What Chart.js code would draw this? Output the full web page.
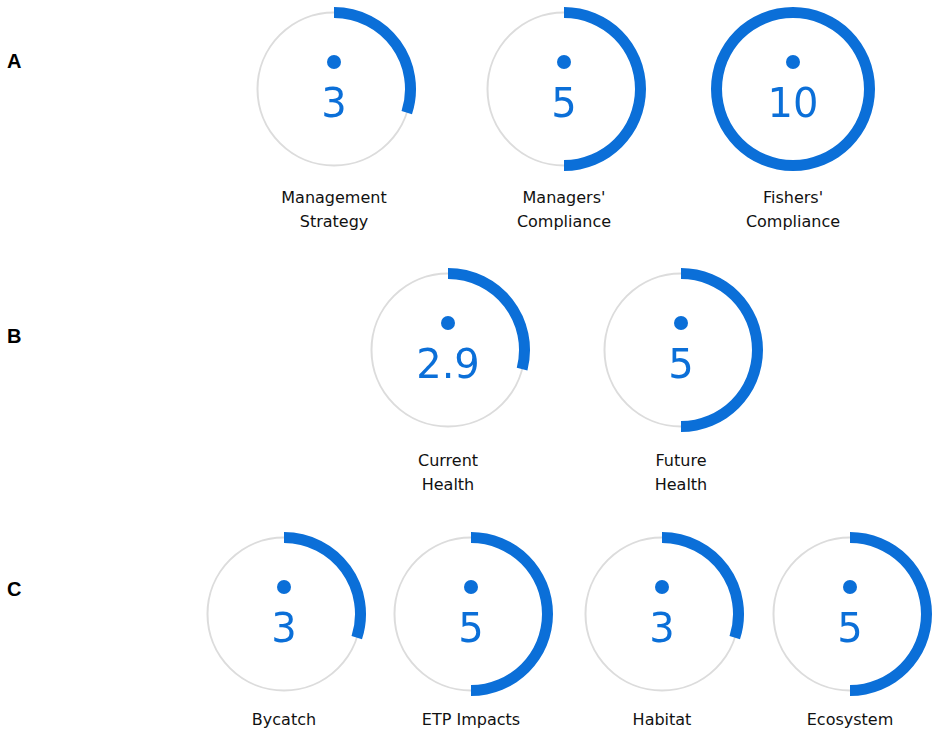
<!DOCTYPE html>
<html>
<head>
<meta charset="utf-8">
<script src="https://cdn.jsdelivr.net/npm/chart.js@4"></script>
<style>
  body { margin: 0; background: #fff; width: 935px; height: 738px; position: relative; overflow: hidden; font-family: "DejaVu Sans", Verdana, sans-serif; }
  canvas.gauge { position: absolute; }
  .lbl { position: absolute; width: 200px; text-align: center; font-size: 16px; line-height: 24px; color: #111; }
  .row { position: absolute; left: 7px; font-family: "Liberation Sans", Arial, sans-serif; font-weight: bold; font-size: 20px; color: #000; }
</style>
</head>
<body>
<script>
// scores out of 10
const maxScore = 10;
const rows = ["A", "B", "C"];
const gaugeRows = ["A", "A", "A", "B", "B", "C", "C", "C", "C"];
const gaugeLabels = [
  ["Management", "Strategy"],
  ["Managers'", "Compliance"],
  ["Fishers'", "Compliance"],
  ["Current", "Health"],
  ["Future", "Health"],
  ["Bycatch"],
  ["ETP Impacts"],
  ["Habitat"],
  ["Ecosystem"]
];
const scores = [3, 5, 10, 2.9, 5, 3, 5, 3, 5];

// layout (px)
const centers = [
  [334, 89], [564, 89], [793, 89],
  [448, 350], [681, 350],
  [284, 614], [471, 614], [662, 614], [850, 614]
];
const rowLabelY = { A: 62, B: 337, C: 590 };
const labelOffset = { A: 109, B: 111, C: 106 };
const blue = "#0b6fd8";
const size = 166;

rows.forEach(r => {
  const d = document.createElement("div");
  d.className = "row";
  d.textContent = r;
  d.style.top = (rowLabelY[r] - 12) + "px";
  document.body.appendChild(d);
});

const gaugePlugin = {
  id: "gaugeDecor",
  beforeDatasetsDraw(chart) {
    const arc = chart.getDatasetMeta(0).data[0];
    const ctx = chart.ctx;
    ctx.save();
    ctx.beginPath();
    ctx.arc(arc.x, arc.y, (arc.outerRadius + arc.innerRadius) / 2, 0, Math.PI * 2);
    ctx.strokeStyle = "#dcdcdc";
    ctx.lineWidth = 2;
    ctx.stroke();
    ctx.restore();
  },
  afterDatasetsDraw(chart) {
    const arc = chart.getDatasetMeta(0).data[0];
    const ctx = chart.ctx;
    const v = chart.data.datasets[0].data[0];
    ctx.save();
    ctx.fillStyle = blue;
    ctx.beginPath();
    ctx.arc(arc.x, arc.y - 27, 7, 0, Math.PI * 2);
    ctx.fill();
    ctx.font = '40px "DejaVu Sans"';
    ctx.textAlign = "center";
    ctx.textBaseline = "alphabetic";
    ctx.fillText(String(v), arc.x, arc.y + 28);
    ctx.restore();
  }
};

scores.forEach((v, i) => {
  const [cx, cy] = centers[i];
  const c = document.createElement("canvas");
  c.className = "gauge";
  c.width = size;
  c.height = size;
  c.style.width = size + "px";
  c.style.height = size + "px";
  c.style.left = (cx - size / 2) + "px";
  c.style.top = (cy - size / 2) + "px";
  document.body.appendChild(c);

  new Chart(c, {
    type: "doughnut",
    data: {
      labels: ["score", "rest"],
      datasets: [{
        data: [v, maxScore - v],
        backgroundColor: [blue, "rgba(0,0,0,0)"],
        borderWidth: 0
      }]
    },
    options: {
      responsive: false,
      animation: false,
      cutout: 71,
      layout: { padding: 1 },
      events: [],
      plugins: { legend: { display: false }, tooltip: { enabled: false } }
    },
    plugins: [gaugePlugin]
  });

  const lbl = document.createElement("div");
  lbl.className = "lbl";
  lbl.style.left = (cx - 100) + "px";
  lbl.style.top = (cy + labelOffset[gaugeRows[i]] - 12) + "px";
  lbl.innerHTML = gaugeLabels[i].join("<br>");
  document.body.appendChild(lbl);
});
</script>
</body>
</html>
